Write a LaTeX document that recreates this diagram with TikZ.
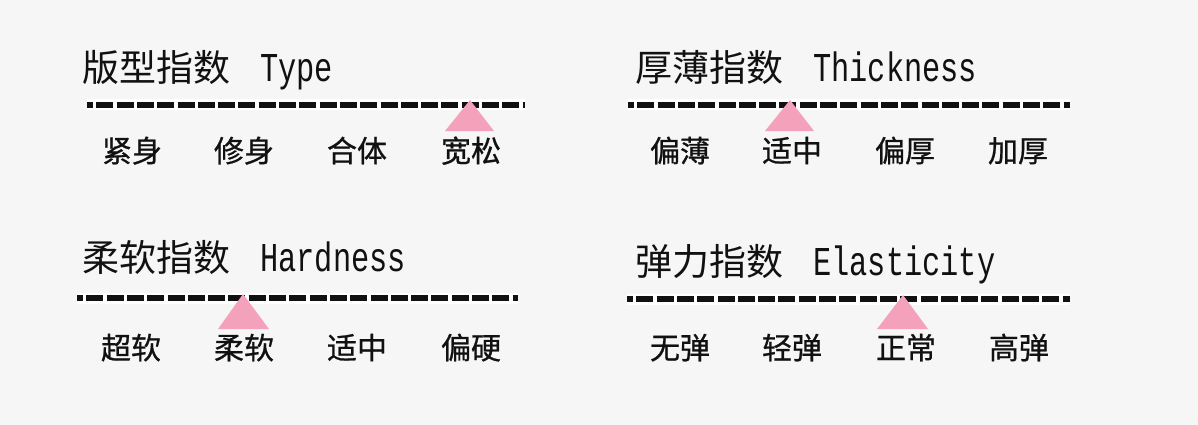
\documentclass[tikz,border=0pt]{standalone}
\usepackage{fontspec}
\newfontfamily\cjk{Noto Sans CJK SC}
\newfontfamily\cjkbold[FakeBold=0.8]{Noto Sans CJK SC}
\newfontfamily\latinmono[FakeStretch=0.74]{Liberation Mono}
\definecolor{paper}{HTML}{F6F6F6}
\definecolor{ink}{HTML}{111111}
\definecolor{markpink}{HTML}{F4A2BC}
\newcommand{\engname}[1]{\hspace{30pt}{\latinmono\fontsize{41}{41}\selectfont #1}}

\begin{document}
\begin{tikzpicture}[x=1pt,y=-1pt]
\tikzset{
  heading/.style={anchor=base west,inner sep=0pt,text=ink,font=\cjk\fontsize{37}{37}\selectfont},
  grade/.style={anchor=base,inner sep=0pt,text=ink,font=\cjkbold\fontsize{30}{30}\selectfont},
  scaleback/.style={white,line width=11pt},
  scalebar/.style={ink,line width=6pt,dash pattern=on 17pt off 3.3pt,dash phase=11pt},
  marker/.style={fill=markpink,draw=none}
}
\fill[paper] (0,0) rectangle (1198,425);

% Type
\node[heading] (t_type) at (82,82) {版型指数\engname{Type}};
\coordinate (a_type) at (87,105);
\coordinate (b_type) at (525,105);
\draw[scaleback] (a_type) -- (b_type);
\draw[scalebar] (a_type) -- (b_type);
\fill[marker] (470,100) -- (494,131) -- (445,131) -- cycle;
\node[grade] (l_type1) at (132,162) {紧身};
\node[grade] (l_type2) at (244,162) {修身};
\node[grade] (l_type3) at (357,162) {合体};
\node[grade] (l_type4) at (471,162) {宽松};

% Thickness
\node[heading] (t_thick) at (635,82) {厚薄指数\engname{Thickness}};
\coordinate (a_thick) at (628,105);
\coordinate (b_thick) at (1070,105);
\draw[scaleback] (a_thick) -- (b_thick);
\draw[scalebar] (a_thick) -- (b_thick);
\fill[marker] (790,100) -- (814,131) -- (765,131) -- cycle;
\node[grade] (l_thick1) at (680,162) {偏薄};
\node[grade] (l_thick2) at (792,162) {适中};
\node[grade] (l_thick3) at (905,162) {偏厚};
\node[grade] (l_thick4) at (1018,162) {加厚};

% Hardness
\node[heading] (t_hard) at (82,271) {柔软指数\engname{Hardness}};
\coordinate (a_hard) at (77,298);
\coordinate (b_hard) at (518,298);
\draw[scaleback] (a_hard) -- (b_hard);
\draw[scalebar] (a_hard) -- (b_hard);
\fill[marker] (243,294) -- (269,329) -- (218,329) -- cycle;
\node[grade] (l_hard1) at (131,359) {超软};
\node[grade] (l_hard2) at (244,359) {柔软};
\node[grade] (l_hard3) at (357,359) {适中};
\node[grade] (l_hard4) at (471,359) {偏硬};

% Elasticity
\node[heading] (t_elast) at (635,275) {弹力指数\engname{Elasticity}};
\coordinate (a_elast) at (627,299);
\coordinate (b_elast) at (1070,299);
\draw[scaleback] (a_elast) -- (b_elast);
\draw[scalebar] (a_elast) -- (b_elast);
\fill[marker] (903,295) -- (928,329) -- (877,329) -- cycle;
\node[grade] (l_elast1) at (680,359) {无弹};
\node[grade] (l_elast2) at (792,359) {轻弹};
\node[grade] (l_elast3) at (906,359) {正常};
\node[grade] (l_elast4) at (1019,359) {高弹};
\end{tikzpicture}
\end{document}
